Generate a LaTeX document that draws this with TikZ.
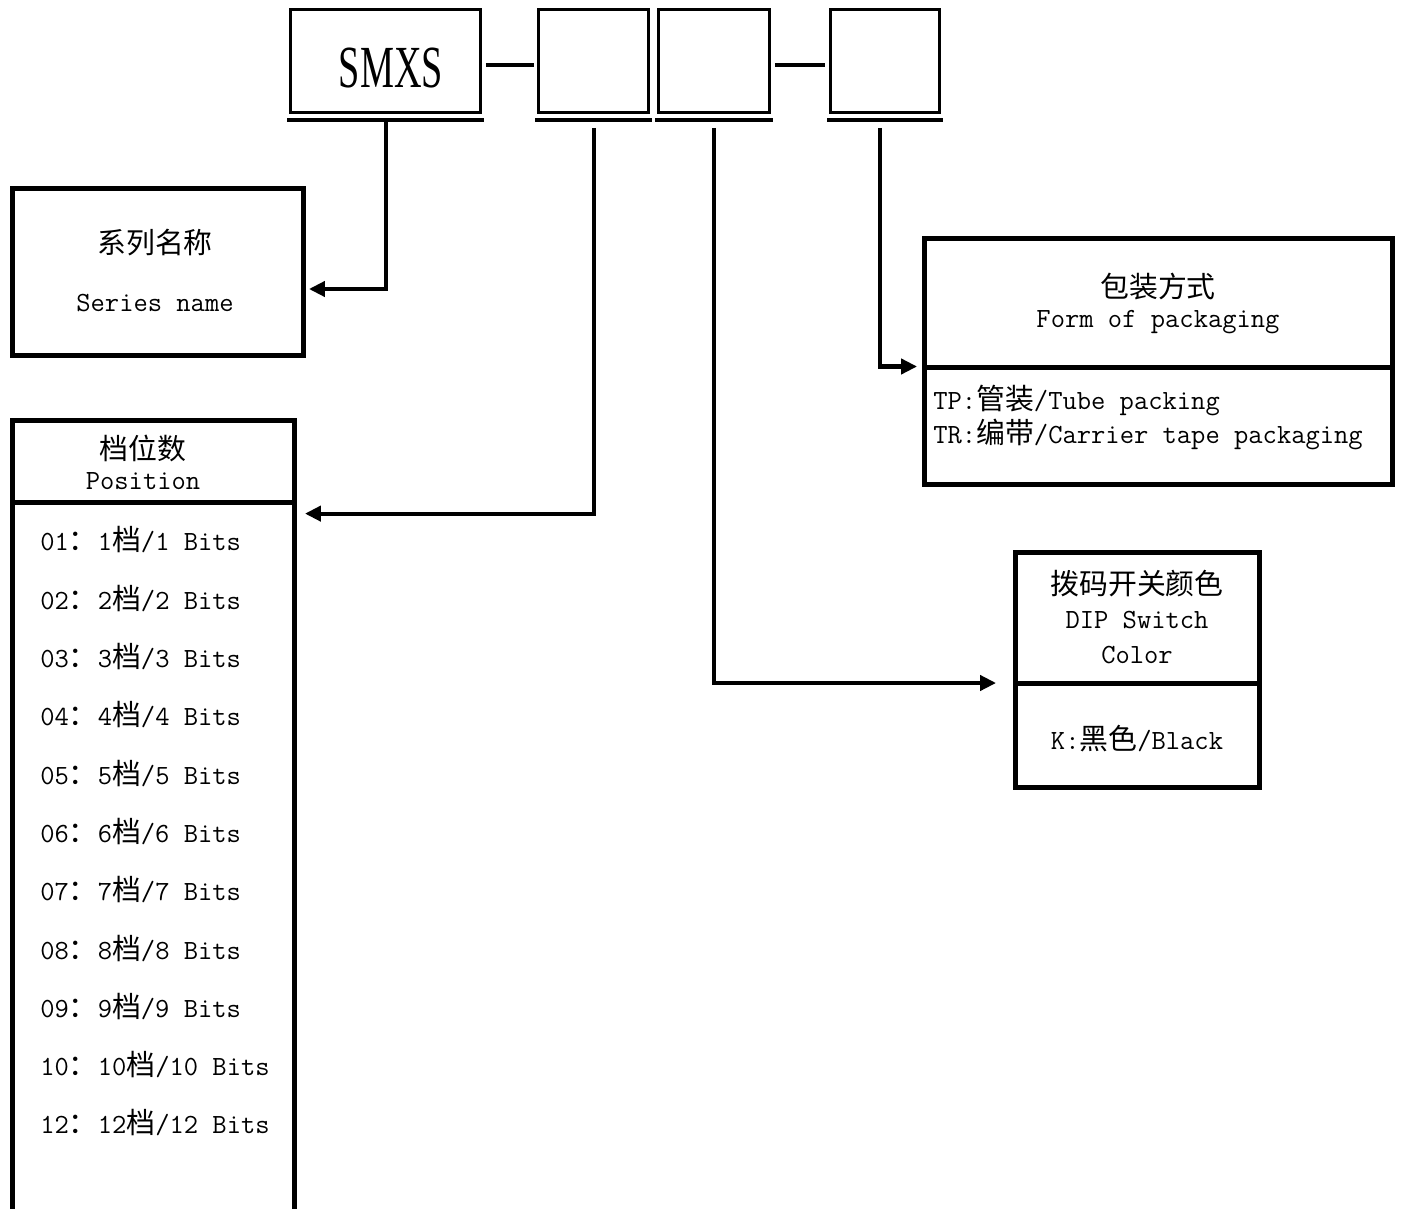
\documentclass[tikz,border=0pt]{standalone}
\usepackage{fontspec}
\usepackage{graphicx}
\newfontfamily\cjk[Scale=1.04]{Noto Sans CJK SC}
\newfontfamily\smxsfont{Liberation Serif}
\newcommand\zh[1]{{\cjk #1}}
\usetikzlibrary{arrows.meta, positioning}

\begin{document}
\begin{tikzpicture}[x=0.02cm, y=-0.02cm,
  topbox/.style={draw, line width=1.7pt, minimum width=#1, minimum height=2.06cm, inner sep=0},
  infobox/.style={draw, line width=2.8pt, inner sep=0},
  bar/.style={line width=2.8pt},
  joinline/.style={line width=2.8pt},
  conn/.style={line width=2.3pt, -{Triangle[length=0.32cm, width=0.3cm]}},
  txt/.style={font=\fontsize{15.8}{19}\selectfont\ttfamily, inner sep=0}]
  \useasboundingbox (0,0) rectangle (1405,1209);

  % Part number boxes
  \node[topbox=3.8cm] (b1) at (385.5,61) {};
  \node[topbox=2.2cm] (b2) at (593.5,61) {};
  \node[topbox=2.22cm] (b3) at (714,61) {};
  \node[topbox=2.18cm] (b4) at (885,61) {};
  \node[font=\fontsize{34}{36}\smxsfont, inner sep=0] (smxs) at (391,68) {\scalebox{0.64}[1]{SMXS}};
  \foreach \b in {b1,b2,b3,b4}
    \draw[bar] ([shift={(-2,6)}]\b.south west) -- ([shift={(2,6)}]\b.south east);
  \draw[joinline] ([shift={(4,4)}]b1.east) -- ([shift={(-3,4)}]b2.west);
  \draw[joinline] ([shift={(4,4)}]b3.east) -- ([shift={(-4,4)}]b4.west);

  % --- Series name ---
  \node[infobox, minimum width=5.82cm, minimum height=3.34cm] (series) at (158,272) {};
  \node[txt] (series-zh) at (155,243) {\zh{系列名称}};
  \node[txt] (series-en) at (155,303) {Series name};

  % --- Position ---
  \node[infobox, minimum width=5.64cm, minimum height=15.9cm] (pos) at (153.5,817.5) {};
  \draw[line width=2.8pt] ([shift={(0,85)}]pos.north west) -- ([shift={(0,85)}]pos.north east);
  \node[txt] (pos-zh) at (143,448) {\zh{档位数}};
  \node[txt] (pos-en) at (143,481) {Position};
  \foreach \n/\k [count=\i from 0] in {01/1,02/2,03/3,04/4,05/5,06/6,07/7,08/8,09/9,10/10,12/12}
    \node[txt, anchor=west] (item\i) at (40,540+58.3*\i) {\n\zh{：}\k\zh{档}/\k{} Bits};

  % --- Form of packaging ---
  \node[infobox, minimum width=9.36cm, minimum height=4.92cm] (pack) at (1158.5,361.5) {};
  \draw[line width=2.8pt] ([shift={(0,131)}]pack.north west) -- ([shift={(0,131)}]pack.north east);
  \node[txt] (pack-zh) at (1158,287) {\zh{包装方式}};
  \node[txt] (pack-en) at (1158,322) {Form of packaging};
  \node[txt, anchor=west] (pack-tp) at (933,400) {TP:\zh{管装}/Tube packing};
  \node[txt, anchor=west] (pack-tr) at (933,434) {TR:\zh{编带}/Carrier tape packaging};

  % --- DIP switch color ---
  \node[infobox, minimum width=4.88cm, minimum height=4.7cm] (dip) at (1137.5,670) {};
  \draw[line width=2.8pt] ([shift={(0,133)}]dip.north west) -- ([shift={(0,133)}]dip.north east);
  \node[txt] (dip-zh) at (1137,584) {\zh{拨码开关颜色}};
  \node[txt] (dip-en) at (1137,620) {DIP Switch};
  \node[txt] (dip-en2) at (1137,655) {Color};
  \node[txt] (dip-k) at (1137,739) {K:\zh{黑色}/Black};

  % Connectors
  \draw[conn, shorten >=0.06cm] ([shift={(0.5,8)}]b1.south) |- ([shift={(0,17)}]series.east);
  \draw[conn, shorten >=0.16cm] ([shift={(0.5,14)}]b2.south) |- ([shift={(0,96)}]pos.north east);
  \draw[conn, shorten >=0.34cm] ([shift={(0,14)}]b3.south) |- ([shift={(0,13)}]dip.west);
  \draw[conn, shorten >=0.1cm] ([shift={(-5,14)}]b4.south) |- ([shift={(0,5)}]pack.west);
\end{tikzpicture}
\end{document}
